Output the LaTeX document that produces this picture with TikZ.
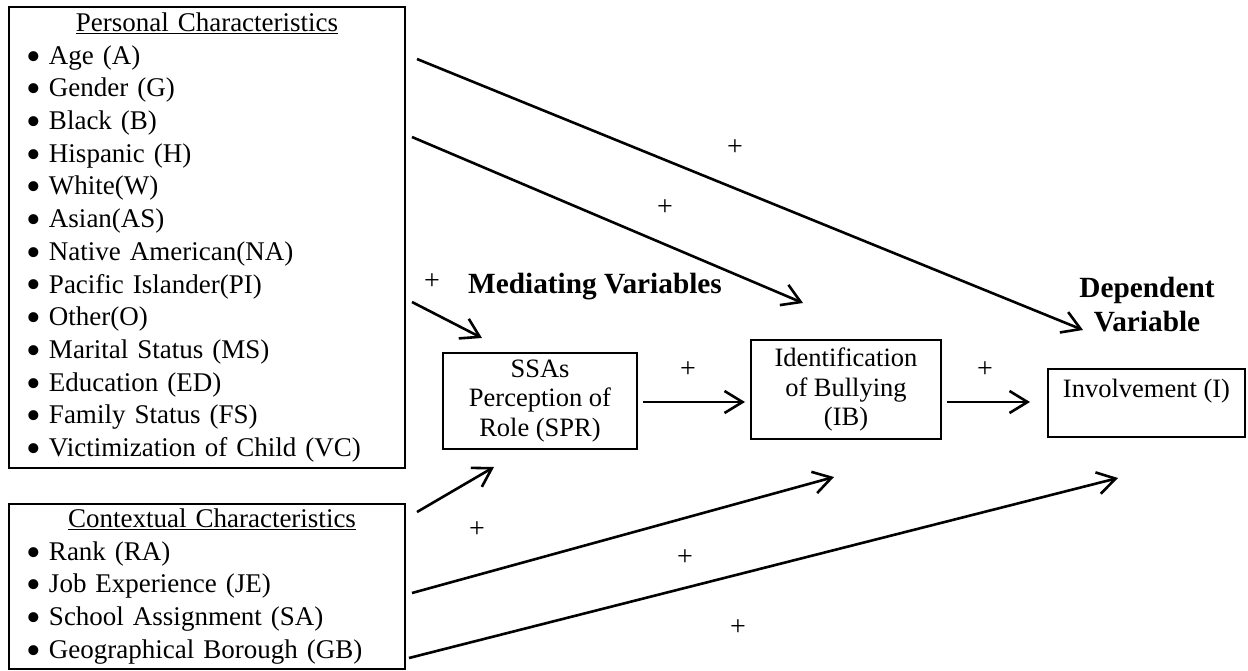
\documentclass[tikz,border=0pt]{standalone}
\usepackage{fontspec}
\setmainfont{Liberation Serif}
\usetikzlibrary{arrows.meta}
\newcommand\bul[1]{\hspace*{18pt}\makebox[22pt][l]{\raisebox{-0.22em}[0pt][0pt]{\scalebox{1.55}{\textbullet}}}#1}
\begin{document}
\begin{tikzpicture}[x=1pt,y=-1pt,
  box/.style={draw, line width=2.6pt, inner sep=0pt},
  conn/.style={line width=2.6pt, -{Straight Barb[length=18pt,width=22pt]}},
  plus/.style={font=\fontsize{28}{30}\selectfont, inner sep=0pt},
  body/.style={font=\fontsize{27}{32.7}\selectfont},
  bbody/.style={font=\fontsize{26.5}{29.5}\selectfont, align=center},
  head/.style={font=\fontsize{29.3}{34}\selectfont\bfseries, align=center, inner sep=0pt}]
\useasboundingbox[fill=white] (0,0) rectangle (1248,670);

% personal characteristics
\node[box, body, text width=396pt, minimum height=461pt, align=left] (pc) at (207,237.5) {%
\makebox[396pt][c]{\underline{Personal Characteristics}}\\
\bul{Age (A)}\\
\bul{Gender (G)}\\
\bul{Black (B)}\\
\bul{Hispanic (H)}\\
\bul{White(W)}\\
\bul{Asian(AS)}\\
\bul{Native American(NA)}\\
\bul{Pacific Islander(PI)}\\
\bul{Other(O)}\\
\bul{Marital Status (MS)}\\
\bul{Education (ED)}\\
\bul{Family Status (FS)}\\
\bul{Victimization of Child (VC)}};

% contextual characteristics
\node[box, body, text width=396pt, minimum height=165pt, align=left] (cc) at (207,586.5) {%
\makebox[396pt][c]{\hspace{10pt}\underline{Contextual Characteristics}}\\
\bul{Rank (RA)}\\
\bul{Job Experience (JE)}\\
\bul{School Assignment (SA)}\\
\bul{Geographical Borough (GB)}};

% mediating / dependent boxes
\node[box, bbody, minimum width=194pt, minimum height=96pt] (spr) at (540,401) {SSAs\\Perception of\\Role (SPR)};
\node[box, bbody, minimum width=190pt, minimum height=99pt] (ib) at (846,389.5) {Identification\\of Bullying\\(IB)};
\node[box, bbody, minimum width=197pt, minimum height=68pt] (inv) at (1146.5,403) {Involvement (I)\\\mbox{}};

% headings
\node[head] (med) at (595,287) {Mediating Variables};
\node[head] (dep) at (1147,305) {Dependent\\Variable};

% connector end points
\coordinate (a1) at (417,59);   \coordinate (a2) at (1083,330);
\coordinate (b1) at (412,137);  \coordinate (b2) at (803,303);
\coordinate (c1) at (412,302);  \coordinate (c2) at (482,338);
\coordinate (d1) at (417,512);  \coordinate (d2) at (494,467);
\coordinate (e1) at (412,593);  \coordinate (e2) at (834,477);
\coordinate (f1) at (409,658);  \coordinate (f2) at (1118,478);
\coordinate (g1) at (643,402);  \coordinate (g2) at (745,402);
\coordinate (h1) at (947,402);  \coordinate (h2) at (1030,402);

\draw[conn] (a1) -- (a2);
\draw[conn] (b1) -- (b2);
\draw[conn] (c1) -- (c2);
\draw[conn] (d1) -- (d2);
\draw[conn] (e1) -- (e2);
\draw[conn] (f1) -- (f2);
\draw[conn] (g1) -- (g2);
\draw[conn] (h1) -- (h2);

% plus signs
\node[plus] (p1) at (735,148) {+};
\node[plus] (p2) at (665,208) {+};
\node[plus] (p3) at (432,282) {+};
\node[plus] (p4) at (688,370) {+};
\node[plus] (p5) at (985,370) {+};
\node[plus] (p6) at (477,530) {+};
\node[plus] (p7) at (685,558) {+};
\node[plus] (p8) at (738,628) {+};
\end{tikzpicture}
\end{document}
